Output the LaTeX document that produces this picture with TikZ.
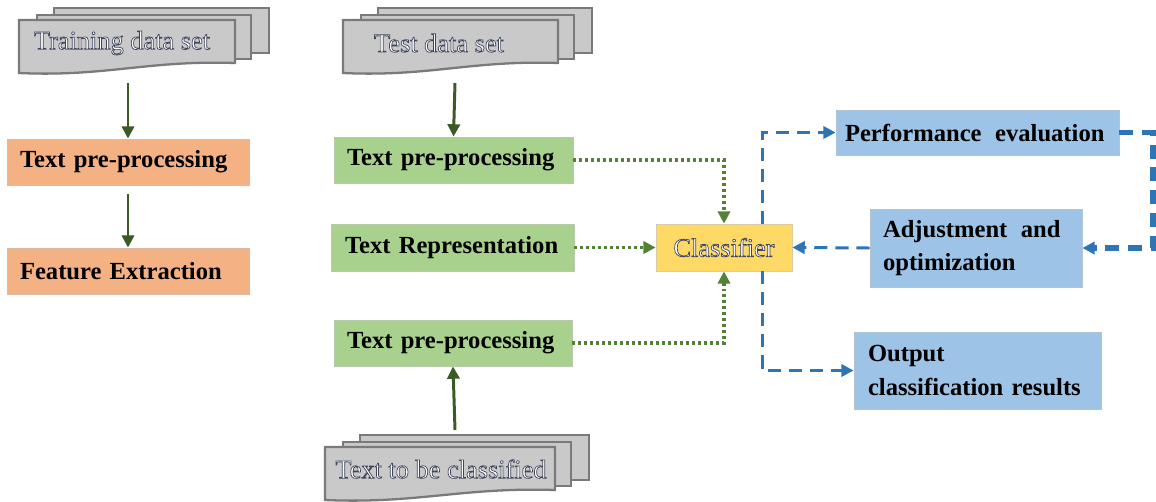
\documentclass[tikz,border=0pt]{standalone}
\usepackage{fontspec}
\setmainfont{Liberation Serif}
\usetikzlibrary{arrows.meta}

% white letters with a thin dark outline
\newcommand\hollow[1]{{\color{white}\special{pdf:literal direct 0.25 0.27 0.36 RG 0.4 w 2 Tr}#1\special{pdf:literal direct 0 Tr}}}

\definecolor{sheetfill}{HTML}{C9C9C9}
\definecolor{sheetline}{HTML}{7A7A7A}
\definecolor{orangefill}{HTML}{F4B183}
\definecolor{greenfill}{HTML}{A9D18E}
\definecolor{bluefill}{HTML}{9DC3E6}
\definecolor{yellowfill}{HTML}{FFD966}
\definecolor{darkgreen}{HTML}{3B5A25}
\definecolor{dotgreen}{HTML}{548235}
\definecolor{linkblue}{HTML}{2E75B6}

\tikzset{
  sheet/.style={fill=sheetfill, draw=sheetline, line width=1.3pt},
  box/.style={draw=#1!80!black!60, line width=0.5pt, inner xsep=0, inner ysep=0,
    font=\fontsize{14}{19}\selectfont\bfseries, align=left, anchor=center},
  orangebox/.style={box=orangefill, fill=orangefill},
  greenbox/.style={box=greenfill, fill=greenfill},
  bluebox/.style={box=bluefill, fill=bluefill},
  classbox/.style={draw=yellowfill!70!black!50, fill=yellowfill, line width=0.5pt,
    minimum width=2.72cm, minimum height=0.94cm, font=\fontsize{15}{18}\selectfont},
  stacklabel/.style={font=\fontsize{15}{18}\selectfont, anchor=center, inner sep=0},
  solidarrow/.style={draw=darkgreen, line width=1.7pt,
    -{Triangle[length=7pt,width=7pt]}},
  dotarrow/.style={draw=dotgreen, line width=1.8pt, dash pattern=on 1.7pt off 1.7pt,
    -{Triangle[length=7pt,width=7pt]}},
  dasharrow/.style={draw=linkblue, line width=1.7pt, dash pattern=on 7.5pt off 4.5pt,
    -{Triangle[length=7pt,width=7pt]}},
  thickdash/.style={draw=linkblue, line width=3.2pt, dash pattern=on 8pt off 5pt,
    -{Triangle[length=7pt,width=7pt]}},
}

% a stack of three sheets; #1,#2 = top left corner of the front sheet, #3 = its width
\newcommand\docstack[3]{%
  \path[sheet] ({#1+35},{#2-12}) rectangle ({#1+#3+34},{#2+33});
  \path[sheet] ({#1+18},{#2-5}) rectangle ({#1+#3+16},{#2+39});
  \path[sheet] (#1,#2) -- ({#1+#3},#2) -- ({#1+#3},{#2+43})
    .. controls ({#1+0.6*#3},{#2+40}) and ({#1+0.4*#3},{#2+57}) .. (#1,{#2+53}) -- cycle;
}

\begin{document}
\begin{tikzpicture}[x=0.02cm, y=-0.02cm]
\useasboundingbox (0,0) rectangle (1156,501);

% sheet stacks
\docstack{19}{20}{216}
\docstack{343}{20}{215}
\docstack{325}{447}{230}
\node[stacklabel] (train) at (122,43) {\hollow{Training data set}};
\node[stacklabel] (test) at (439,43) {\hollow{Test data set}};
\node[stacklabel] (unk) at (441,469) {\hollow{Text to be classified}};
\coordinate (trainout) at (128,83);
\coordinate (testout) at (455,83);
\coordinate (unkout) at (455,430);

% training branch
\node[orangebox, minimum width=4.84cm, minimum height=0.92cm, text width=4.32cm]
  (tpre) at (128,162) {\raisebox{-2pt}{Text pre-processing}};
\node[orangebox, minimum width=4.84cm, minimum height=0.92cm, text width=4.32cm]
  (feat) at (128,271) {\raisebox{-2pt}{Feature Extraction}};

% test branch
\node[greenbox, minimum width=4.78cm, minimum height=0.92cm, text width=4.26cm]
  (pre1) at (453.5,160) {\raisebox{-2pt}{Text pre-processing}};
\node[greenbox, minimum width=4.86cm, minimum height=0.94cm, text width=4.30cm]
  (repr) at (452.5,247.5) {\raisebox{-1pt}{Text Representation}};
\node[greenbox, minimum width=4.76cm, minimum height=0.92cm, text width=4.24cm]
  (pre2) at (453,343) {\raisebox{-1pt}{Text pre-processing}};

\node[classbox] (cls) at (724,247.5) {\hollow{Classifier}};

% evaluation side
\node[bluebox, minimum width=5.66cm, minimum height=0.90cm, text width=5.30cm]
  (perf) at (977.5,132.5) {Performance\hspace{0.55em}evaluation};
\node[bluebox, minimum width=4.24cm, minimum height=1.56cm, text width=3.72cm]
  (adj) at (976,248) {Adjustment\hspace{0.55em}and\\optimization};
\node[bluebox, minimum width=4.94cm, minimum height=1.54cm, text width=4.38cm]
  (outp) at (977.5,370.5) {Output\\classification results};

% connectors
\draw[solidarrow] (trainout) -- (tpre.north);
\draw[solidarrow] (tpre.south |- 0,194) -- (feat.north);
\draw[solidarrow] (testout) -- (pre1.north);
\draw[solidarrow] (unkout) -- (pre2.south);

\draw[dotarrow] (pre1.east) -| (cls.north);
\draw[dotarrow] (repr.east) -- (cls.west);
\draw[dotarrow] (pre2.east) -| (cls.south);

\coordinate (ctop) at (762,224);
\coordinate (cbot) at (762,271);
\draw[dasharrow] (ctop) |- (perf.west);
\draw[dasharrow] (cbot) |- (outp.west);
\draw[thickdash] (perf.east) -- (1153,132.5) |- (adj.east);
\draw[dasharrow] (adj.west) -- (cls.east);
\end{tikzpicture}
\end{document}
